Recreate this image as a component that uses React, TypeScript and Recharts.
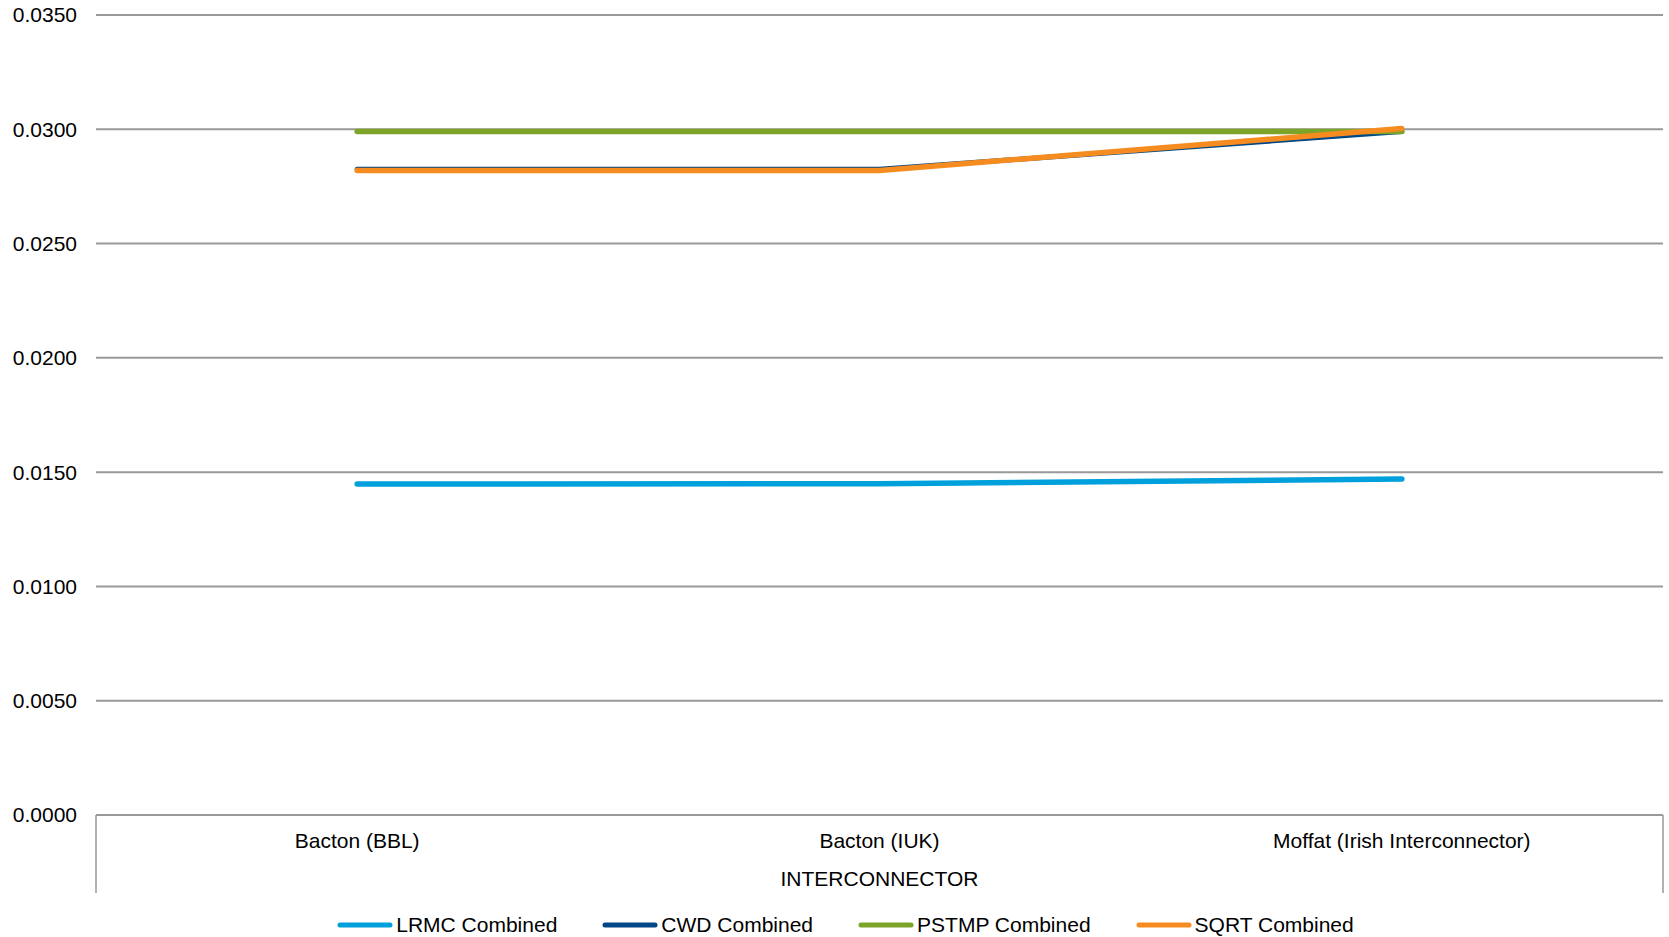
import { LineChart, Line, XAxis, YAxis, CartesianGrid, Legend } from "recharts";

const categories = ["Bacton (BBL)", "Bacton (IUK)", "Moffat (Irish Interconnector)"];
const lrmc = [0.01448, 0.01449, 0.0147];
const cwd = [0.02825, 0.02825, 0.0299];
const pstmp = [0.0299, 0.0299, 0.0299];
const sqrt = [0.0282, 0.0282, 0.03003];
const yTicks = [0, 0.005, 0.01, 0.015, 0.02, 0.025, 0.03, 0.035];

const seriesInfo = [
  { key: "lrmc", name: "LRMC Combined", color: "#00A0DC" },
  { key: "cwd", name: "CWD Combined", color: "#004785" },
  { key: "pstmp", name: "PSTMP Combined", color: "#7BA428" },
  { key: "sqrt", name: "SQRT Combined", color: "#F68B1F" },
];

const data = categories.map((c, i) => ({
  name: c,
  lrmc: lrmc[i],
  cwd: cwd[i],
  pstmp: pstmp[i],
  sqrt: sqrt[i],
}));

const FONT = "'Liberation Sans', Arial, sans-serif";

const CategoryTick = (props: any) => {
  const { x, y, payload, index, visibleTicksCount } = props;
  const half = payload?.offset ?? 0;
  return (
    <g>
      <text x={x} y={y + 18} dy="0.71em" textAnchor="middle" fontSize={21} fill="#000" fontFamily={FONT}>
        {payload.value}
      </text>
      {index === 0 && <line x1={x - half} x2={x - half} y1={y} y2={y + 78} stroke="#999" strokeWidth={1.5} />}
      {index === visibleTicksCount - 1 && (
        <line x1={x + half} x2={x + half} y1={y} y2={y + 78} stroke="#999" strokeWidth={1.5} />
      )}
    </g>
  );
};

const LegendContent = () => (
  <div
    style={{
      height: 44,
      boxSizing: "border-box",
      paddingTop: 20,
      paddingLeft: 28,
      display: "flex",
      justifyContent: "center",
      alignItems: "center",
      fontFamily: FONT,
      fontSize: 21,
      color: "#000",
    }}
  >
    {seriesInfo.map((s, i) => (
      <div key={s.key} style={{ display: "flex", alignItems: "center", marginLeft: i === 0 ? 0 : 45 }}>
        <svg width={56} height={8} style={{ marginRight: 3 }}>
          <line x1={3} x2={53} y1={4} y2={4} stroke={s.color} strokeWidth={5} strokeLinecap="round" />
        </svg>
        <span style={{ lineHeight: "24px" }}>{s.name}</span>
      </div>
    ))}
  </div>
);

export default function App() {
  return (
    <div style={{ position: "absolute", left: 0, top: 0, background: "#fff" }}>
      <LineChart width={1669} height={937} data={data} margin={{ top: 15, right: 6, bottom: 0, left: 0 }}>
        <CartesianGrid vertical={false} stroke="#999" strokeWidth={2} />
        <XAxis
          dataKey="name"
          scale="band"
          height={78}
          interval={0}
          tickLine={false}
          tickSize={0}
          tickMargin={0}
          axisLine={{ stroke: "#999", strokeWidth: 2 }}
          tick={<CategoryTick />}
          label={{ value: "INTERCONNECTOR", position: "insideBottom", offset: 7, fontSize: 21, fill: "#000", fontFamily: FONT }}
        />
        <YAxis
          width={96}
          domain={[0, 0.035]}
          ticks={yTicks}
          axisLine={false}
          tickLine={false}
          tickSize={0}
          tickMargin={19}
          tickFormatter={(v: number) => v.toFixed(4)}
          tick={{ fontSize: 21, fill: "#000", fontFamily: FONT }}
        />
        <Legend verticalAlign="bottom" content={<LegendContent />} />
        {seriesInfo.map((s) => (
          <Line
            key={s.key}
            type="linear"
            dataKey={s.key}
            name={s.name}
            stroke={s.color}
            strokeWidth={s.key === "cwd" ? 5 : 5.5}
            strokeLinecap="round"
            dot={false}
            activeDot={false}
            isAnimationActive={false}
          />
        ))}
      </LineChart>
    </div>
  );
}
